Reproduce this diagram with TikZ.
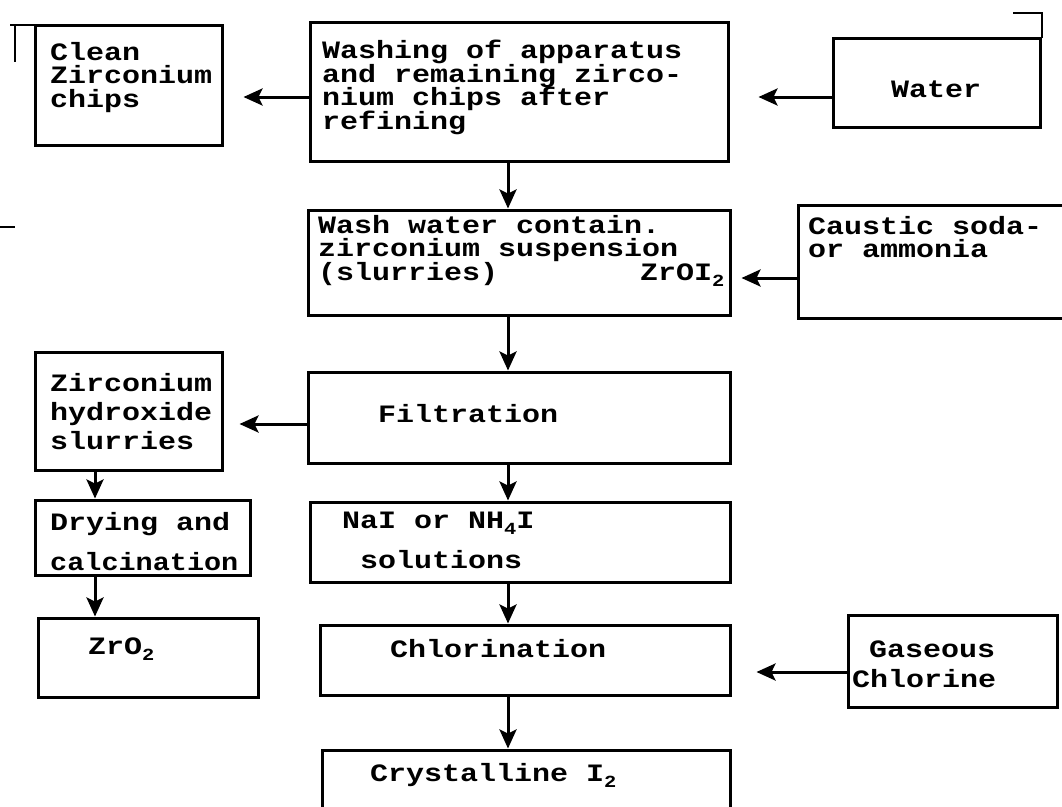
\documentclass[tikz,border=0pt]{standalone}
\usepackage{fontspec}
\setmainfont{Liberation Mono}[FakeStretch=1.2]
\usetikzlibrary{arrows.meta}
\newcommand{\lowidx}[1]{\raisebox{-6pt}{\fontsize{17}{17}\selectfont #1}}

\begin{document}
\lineskiplimit=-100pt
\begin{tikzpicture}[x=1pt,y=-1pt,
  box/.style={draw, line width=3pt, inner sep=0pt},
  txt/.style={font={\fontsize{25}{#1}\selectfont\bfseries},
    align=left, anchor=north west, inner sep=0pt},
  txt/.default=23.5,
  flow/.style={->, >={Stealth[length=19pt,width=17pt,inset=4pt]}, line width=3pt}]
\useasboundingbox (0,0) rectangle (1062,806);

% guide lines for the arrows
\coordinate (spine) at (508,0);
\coordinate (lspine) at (95,0);
\coordinate (r1) at (0,97);
\coordinate (r2) at (0,278);
\coordinate (r3) at (0,424);
\coordinate (r4) at (0,672);

% frames
\node[box, minimum width=187pt, minimum height=120pt] (chips)   at (128.5,85)  {};
\node[box, minimum width=418pt, minimum height=139pt] (washing) at (519,91.5)  {};
\node[box, minimum width=207pt, minimum height=89pt]  (water)   at (936.5,82.5){};
\node[box, minimum width=422pt, minimum height=105pt] (slurry)  at (519,262.5) {};
\node[box, minimum width=272pt, minimum height=113pt] (caustic) at (934,261.5) {};
\node[box, minimum width=187pt, minimum height=118pt] (hydrox)  at (128.5,411) {};
\node[box, minimum width=422pt, minimum height=91pt]  (filtr)   at (519,417.5) {};
\node[box, minimum width=215pt, minimum height=75pt]  (drying)  at (142.5,537.5){};
\node[box, minimum width=420pt, minimum height=80pt]  (nai)     at (520,542)   {};
\node[box, minimum width=220pt, minimum height=79pt]  (zro)     at (148,657.5) {};
\node[box, minimum width=410pt, minimum height=70pt]  (chlor)   at (525,660)   {};
\node[box, minimum width=209pt, minimum height=92pt]  (gas)     at (952.5,661) {};
\node[box, minimum width=408pt, minimum height=65pt]  (cryst)   at (526,782.5) {};

% texts
\node[txt]    (chipsT)   at (50,42)   {Clean\\Zirconium\\chips};
\node[txt]    (washingT) at (322,40)  {Washing of apparatus\\and remaining zirco-\\nium chips after\\refining};
\node[txt, anchor=center] (waterT) at (936,89) {Water};
\node[txt]    (slurryT)  at (318,215) {Wash water contain.\\zirconium suspension\\\makebox[322pt][l]{(slurries)}ZrOI\lowidx{2}};
\node[txt]    (causticT) at (808,216) {Caustic soda-\\or ammonia};
\node[txt=29] (hydroxT)  at (50,373)  {Zirconium\\hydroxide\\slurries};
\node[txt]    (filtrT)   at (378,404) {Filtration};
\node[txt=40] (dryingT)  at (50,512)  {Drying and\\\scalebox{0.95}[1]{calcination}};
\node[txt=40] (naiT)     at (342,512) {NaI or NH\lowidx{4}I\\\hspace*{18pt}solutions};
\node[txt]    (zroT)     at (88,638)  {ZrO\lowidx{2}};
\node[txt]    (chlorT)   at (390,639) {Chlorination};
\node[txt=30] (gasT)     at (852,641) {\hspace*{17pt}Gaseous\\Chlorine};
\node[txt]    (crystT)   at (370,763) {Crystalline I\lowidx{2}};

% side arrows
\draw[flow, shorten >=20pt] (washing.west |- r1) -- (chips.east |- r1);
\draw[flow, shorten >=29pt] (water.west |- r1) -- (washing.east |- r1);
\draw[flow, shorten >=10pt] (caustic.west |- r2) -- (slurry.east |- r2);
\draw[flow, shorten >=16pt] (filtr.west |- r3) -- (hydrox.east |- r3);
\draw[flow, shorten >=25pt] (gas.west |- r4) -- (chlor.east |- r4);

% main line
\draw[flow] (washing.south -| spine) -- (slurry.north -| spine);
\draw[flow] (slurry.south -| spine) -- (filtr.north -| spine);
\draw[flow] (filtr.south -| spine) -- (nai.north -| spine);
\draw[flow] (nai.south -| spine) -- (chlor.north -| spine);
\draw[flow] (chlor.south -| spine) -- (cryst.north -| spine);

% left line
\draw[flow] (hydrox.south -| lspine) -- (drying.north -| lspine);
\draw[flow] (drying.south -| lspine) -- (zro.north -| lspine);

% marks on the sheet
\draw[line width=2.4pt] (10,25) -- (35,25) (15,25) -- (15,62);
\draw[line width=2.4pt] (1013,13) -- (1042,13) -- (1042,38);
\draw[line width=2.4pt] (0,227) -- (15,227);
\end{tikzpicture}
\end{document}
